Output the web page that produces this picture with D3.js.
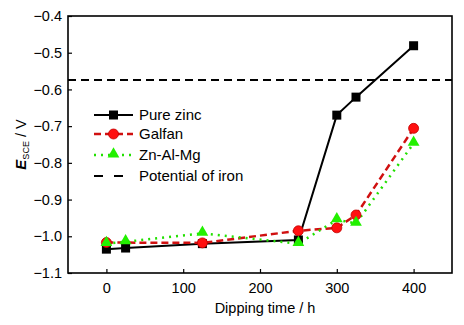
<!DOCTYPE html>
<html><head><meta charset="utf-8">
<script src="https://cdn.jsdelivr.net/npm/d3@7"></script>
<style>body{margin:0;background:#fff}svg{display:block}text{font-family:"Liberation Sans",Arial,sans-serif}</style>
</head><body><svg id="c" width="464" height="325"></svg>
<script>
const zincX = [0, 25, 125, 250, 300, 325, 400];
const zincY = [-1.035, -1.032, -1.02, -1.01, -0.67, -0.621, -0.481];
const galfanX = [0, 125, 250, 300, 325, 400];
const galfanY = [-1.017, -1.018, -0.985, -0.977, -0.942, -0.706];
const znalmgX = [0, 25, 125, 250, 300, 325, 400];
const znalmgY = [-1.02, -1.015, -0.992, -1.02, -0.955, -0.965, -0.747];
const ironPotential = -0.574;
const xTicks = [0, 100, 200, 300, 400];
const yTicks = [-1.1, -1.0, -0.9, -0.8, -0.7, -0.6, -0.5, -0.4];
const legendLabels = ["Pure zinc", "Galfan", "Zn-Al-Mg", "Potential of iron"];

const svg = d3.select("#c");
const L = 68, R = 452, T = 16, B = 273;
const x = d3.scaleLinear().domain([-50, 450]).range([L, R]);
const y = d3.scaleLinear().domain([-1.1, -0.4]).range([B, T]);
const FS = 14.5;

// frame
svg.append("rect").attr("x", L).attr("y", T).attr("width", R - L).attr("height", B - T)
  .attr("fill", "none").attr("stroke", "#000").attr("stroke-width", 1.6);

const xa = svg.append("g").attr("transform", `translate(0,${B})`)
  .call(d3.axisBottom(x).tickValues(xTicks).tickSizeInner(-4).tickSizeOuter(0).tickPadding(10));
const ya = svg.append("g").attr("transform", `translate(${L},0)`)
  .call(d3.axisLeft(y).tickValues(yTicks).tickFormat(d3.format(".1f")).tickSizeInner(-4).tickSizeOuter(0).tickPadding(6));
[xa, ya].forEach(a => {
  a.select(".domain").remove();
  a.selectAll("line").attr("stroke", "#000").attr("stroke-width", 1.2);
  a.selectAll("text").attr("font-size", FS).attr("fill", "#000");
});

// axis titles
svg.append("text").attr("x", 265).attr("y", 313).attr("text-anchor", "middle")
  .attr("font-size", FS).text("Dipping time / h");
const yt = svg.append("text").attr("transform", `translate(26,${(T + B) / 2}) rotate(-90)`)
  .attr("text-anchor", "middle").attr("font-size", FS);
yt.append("tspan").attr("font-style", "italic").attr("font-weight", "bold").attr("font-size", 15).text("E");
yt.append("tspan").attr("font-size", 9).attr("dy", 3).text("SCE");
yt.append("tspan").attr("dy", -3).text(" / V");

// iron potential
svg.append("line").attr("x1", L).attr("x2", R).attr("y1", y(ironPotential)).attr("y2", y(ironPotential))
  .attr("stroke", "#000").attr("stroke-width", 2).attr("stroke-dasharray", "8,5");

const line = d3.line().x(d => x(d[0])).y(d => y(d[1]));
const zinc = zincX.map((v, i) => [v, zincY[i]]);
const galfan = galfanX.map((v, i) => [v, galfanY[i]]);
const znalmg = znalmgX.map((v, i) => [v, znalmgY[i]]);

const tri = d3.symbol().type(d3.symbolTriangle).size(60);

const g = svg.append("g");
g.append("path").datum(zinc).attr("d", line).attr("fill", "none")
  .attr("stroke", "#000").attr("stroke-width", 2);
g.append("path").datum(galfan).attr("d", line).attr("fill", "none")
  .attr("stroke", "#d01010").attr("stroke-width", 2.5).attr("stroke-dasharray", "7,4");
g.append("path").datum(znalmg).attr("d", line).attr("fill", "none")
  .attr("stroke", "#22e000").attr("stroke-width", 2.5).attr("stroke-dasharray", "2,5");
g.selectAll(".sq").data(zinc).join("rect").attr("x", d => x(d[0]) - 4.5).attr("y", d => y(d[1]) - 4.5)
  .attr("width", 9).attr("height", 9).attr("fill", "#000");
g.selectAll(".ci").data(galfan).join("circle").attr("cx", d => x(d[0])).attr("cy", d => y(d[1]))
  .attr("r", 5).attr("fill", "#ff1010").attr("stroke", "#c00000").attr("stroke-width", 0.8);
g.selectAll(".tr").data(znalmg).join("path").attr("d", tri)
  .attr("transform", d => `translate(${x(d[0])},${y(d[1]) - 1})`).attr("fill", "#22f000");

// legend
const lg = svg.append("g");
const ly = [115, 134, 155, 176];
const lx1 = 94, lx2 = 133, lxm = 113.5;
lg.append("line").attr("x1", lx1).attr("x2", lx2).attr("y1", ly[0]).attr("y2", ly[0]).attr("stroke", "#000").attr("stroke-width", 2);
lg.append("rect").attr("x", lxm - 4.5).attr("y", ly[0] - 4.5).attr("width", 9).attr("height", 9).attr("fill", "#000");
lg.append("line").attr("x1", lx1).attr("x2", lx2).attr("y1", ly[1]).attr("y2", ly[1]).attr("stroke", "#d01010").attr("stroke-width", 2.5).attr("stroke-dasharray", "7,4");
lg.append("circle").attr("cx", lxm).attr("cy", ly[1]).attr("r", 5).attr("fill", "#ff1010").attr("stroke", "#c00000").attr("stroke-width", 0.8);
lg.append("line").attr("x1", lx1).attr("x2", lx2).attr("y1", ly[2]).attr("y2", ly[2]).attr("stroke", "#22e000").attr("stroke-width", 2.5).attr("stroke-dasharray", "2,5");
lg.append("path").attr("d", tri).attr("transform", `translate(${lxm},${ly[2] - 1})`).attr("fill", "#22f000");
lg.append("line").attr("x1", lx1).attr("x2", lx2).attr("y1", ly[3]).attr("y2", ly[3]).attr("stroke", "#000").attr("stroke-width", 2).attr("stroke-dasharray", "9,11");
lg.selectAll("text").data(legendLabels).join("text").attr("x", 139).attr("y", (d, i) => ly[i] + 5)
  .attr("font-size", 15).text(d => d);
</script></body></html>
